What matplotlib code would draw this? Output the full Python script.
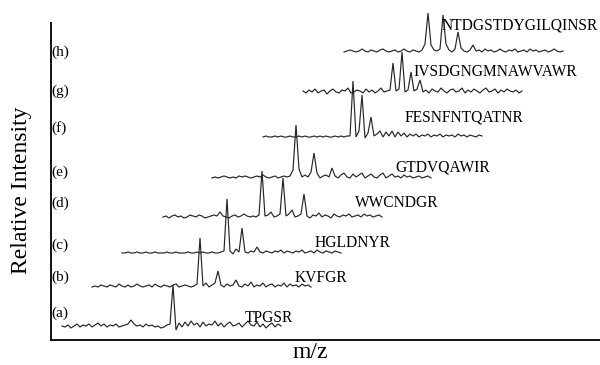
import numpy as np
import matplotlib
matplotlib.use("Agg")
import matplotlib.pyplot as plt

plt.rcParams['font.family'] = ['Liberation Serif', 'DejaVu Serif']

# Panel tags and peptide sequences, bottom (a) to top (h)
panel_tags = ["(a)", "(b)", "(c)", "(d)", "(e)", "(f)", "(g)", "(h)"]
peptides = ["TPGSR", "KVFGR", "HGLDNYR", "WWCNDGR", "GTDVQAWIR",
            "FESNFNTQATNR", "IVSDGNGMNAWVAWR", "NTDGSTDYGILQINSR"]

# Intensity readings of each spectrum, sampled every 3 m/z units
spec_a = [1, 0, 2, -1, 1, 3, 0, 2, 1, 3,
          0, 2, 4, 1, 3, 0, 2, 1, 3, 0,
          1, 2, 3, 7, 3, 1, 2, 0, 3, 1,
          2, 0, 1, -1, 0, 2, 3, 42, -3, 4,
          0, 5, 1, 6, 2, 4, 0, 5, 1, 3,
          2, 6, 1, 4, 0, 3, 5, 1, 2, 4,
          0, 3, 6, 2, 1, 5, 0, 3, -1, 2,
          4, 0, 3, 1]
spec_b = [0, 1, 0, 2, 1, 0, 2, 1, 0, 3,
          1, 0, 2, 0, 1, 3, 1, 0, 1, 2,
          0, 3, 1, 0, 2, 1, 0, 2, 3, 0,
          1, 2, 1, 0, 1, 3, 49, 1, 4, 0,
          2, 4, 16, 2, 0, 3, 1, 2, 7, 1,
          0, 3, 1, 5, 0, 2, 1, 4, 0, 2,
          3, 0, 2, 1, 4, 0, 3, 1, 2, 0,
          3, 1, 2, 0]
spec_c = [0, 0, 1, 0, 0, 1, 0, 0, 1, 0,
          0, 1, 0, 0, 0, 1, 0, 0, 1, 0,
          0, 0, 1, 0, 0, 1, 0, 1, 0, 0,
          1, 0, 0, 1, 2, 54, 2, -1, 4, 1,
          25, 1, 0, 2, 1, 6, 1, 0, 2, 1,
          0, 2, 1, 3, 0, 2, 1, 0, 2, 1,
          3, 0, 1, 2, 0, 3, 1, 0, 2, 1,
          0, 2, 1, 0]
spec_d = [0, 1, -1, 1, 2, 0, 1, -1, 0, 2,
          1, 0, 2, 1, -1, 0, 1, 2, 1, 5,
          1, 0, -1, 1, 2, 0, 1, 3, 1, 0,
          1, 0, 2, 46, 1, 2, 5, 0, 1, 3,
          39, 1, 3, 7, 0, 1, 3, 23, 1, -1,
          2, 1, 4, 0, 2, 1, -1, 3, 1, 0,
          2, 1, 3, 0, 1, 2, 0, 3, 1, 2,
          0, 1, 2, 0]
spec_e = [0, 1, 0, 1, 2, 1, 0, 1, 0, 2,
          1, 2, 1, 0, 1, 2, 1, 3, 1, 0,
          1, 2, 0, 1, 2, 1, 2, 8, 53, 9,
          1, 3, 1, 6, 25, 5, 0, 2, 3, 1,
          10, 2, 0, 3, 5, 1, 0, 4, 1, 3,
          5, 0, 2, 4, 1, 0, 3, 5, 0, 2,
          4, 1, 2, 0, 3, 1, 2, 0, 1, 2,
          0, 1, 2, 0]
spec_f = [0, 1, 0, 0, 1, 0, 1, 0, 0, 1,
          0, 0, 1, 0, 1, 0, 0, 1, 0, 1,
          0, 1, 0, 0, 1, 0, 1, 0, 1, 1,
          56, 0, 6, 42, -1, 4, 20, 1, 3, 6,
          0, 5, 1, 6, 0, 5, 1, 4, 0, 3,
          1, 3, 0, 2, 1, 3, 0, 2, 1, 3,
          0, 2, 1, 2, 0, 3, 1, 2, 0, 2,
          1, 0, 2, 1]
spec_g = [1, -1, 2, 0, 3, -1, 1, 2, -2, 1,
          3, 0, -1, 2, 1, 4, -1, 0, 2, 1,
          -1, 3, 0, 2, -1, 1, 4, 0, 1, 2,
          29, 1, 3, 40, 0, 2, 20, 1, 3, 12,
          0, 2, -1, 3, 1, 0, 4, 1, -1, 2,
          3, 0, 1, 4, -1, 2, 0, 3, 1, -1,
          2, 4, 0, 1, 3, -1, 2, 0, 3, 1,
          0, 2, -1, 1]
spec_h = [0, 1, 2, 1, 0, 1, 3, 1, 0, 2,
          1, 0, 2, 3, 1, 0, 1, 2, 0, 1,
          3, 1, 0, 2, 1, 0, 2, 8, 39, 7,
          2, 1, 3, 37, 8, 2, 0, 3, 20, 4,
          1, 0, 2, 7, 1, 2, 0, 3, 1, 2,
          0, 1, 3, 1, 0, 2, 1, 3, 0, 1,
          2, 0, 3, 1, 2, 0, 1, 2, 0, 1,
          3, 1, 0, 1]
spectra = [spec_a, spec_b, spec_c, spec_d, spec_e, spec_f, spec_g, spec_h]

# Stacking layout: first m/z of each trace and its vertical offset
mz_start = [11, 41, 71, 112, 161, 212, 252, 293]
y_offset = [13, 53, 87, 123, 162, 203, 248, 288]
mz_step = 3

# Label anchors (data units)
tag_y = [27, 63, 95, 137, 168, 212, 249, 288]
pep_xy = [(194, 22), (244, 62), (264, 97), (304, 137), (344, 172),
          (354, 222), (362, 268), (391, 315)]

fig = plt.figure(figsize=(6.0, 3.65), dpi=100)
ax = fig.add_axes([51 / 600, 25 / 365, 549 / 600, 317 / 365])
ax.set_xlim(0, 549)
ax.set_ylim(0, 317)

for vals, x0, y0 in zip(spectra, mz_start, y_offset):
    vals = np.asarray(vals, dtype=float)
    mz = x0 + mz_step * np.arange(len(vals))
    ax.plot(mz, y0 + vals, color='#262626', lw=0.85, clip_on=False,
            solid_joinstyle='miter')

for tag, ty in zip(panel_tags, tag_y):
    ax.text(0.5, ty, tag, fontsize=11, ha='left', va='center', color='black')

for pep, (px, py) in zip(peptides, pep_xy):
    ax.text(px, py, pep, fontsize=11.2, ha='left', va='center', color='black')

for side in ('top', 'right'):
    ax.spines[side].set_visible(False)
for side in ('left', 'bottom'):
    ax.spines[side].set_linewidth(1.4)
    ax.spines[side].set_color('#111111')
ax.set_xticks([])
ax.set_yticks([])

fig.text(22 / 600, 1 - 190 / 365, "Relative Intensity", rotation=90,
         fontsize=17, ha='center', va='center')
fig.text(310 / 600, 1 - 352 / 365, "m/z", fontsize=17,
         ha='center', va='center')

fig.savefig("out.png", dpi=100)
